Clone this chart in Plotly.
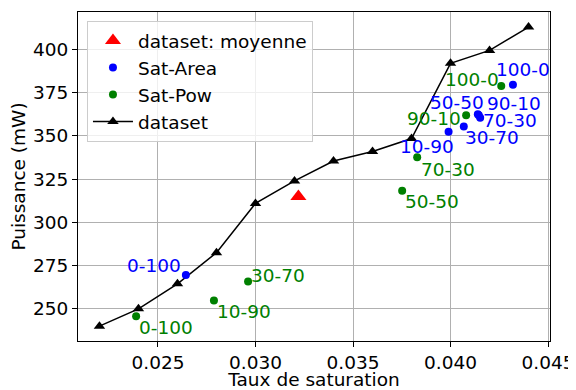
import plotly.graph_objects as go

# --- data ---
ds_x = [0.022, 0.024, 0.026, 0.028, 0.030, 0.032, 0.034, 0.036, 0.038, 0.040, 0.042, 0.044]
ds_y = [240, 250, 264.5, 282.5, 311, 324, 335.5, 341, 348.5, 392, 399.5, 413]

mean_x = [0.0322]
mean_y = [315]

labels = ["0-100", "10-90", "30-70", "50-50", "70-30", "90-10", "100-0"]

area_x = [0.02643, 0.0399, 0.04068, 0.0414, 0.04152, 0.04145, 0.0432]
area_y = [269.6, 352.5, 355.4, 362.5, 360.6, 362.0, 379.6]

pow_x = [0.02388, 0.02787, 0.02962, 0.03752, 0.03829, 0.0408, 0.0426]
pow_y = [245.7, 254.8, 265.8, 318.3, 337.7, 362.0, 378.9]

x_ticks = [0.025, 0.030, 0.035, 0.040, 0.045]
y_ticks = [250, 275, 300, 325, 350, 375, 400]

# label offsets in pixels (style): (dx right, dy up) of label centre from its point
area_off = [(-32, 9), (-22, -15), (28, -11), (-21, 12), (30, -3), (35, 12), (10, 15)]
pow_off = [(30, -11), (30, -11), (30, 6), (30, -11), (31, -12), (-32, -3), (-29, 6)]

FONT = "DejaVu Sans"
FS = 18.5

fig = go.Figure()

fig.add_trace(go.Scatter(
    x=ds_x, y=ds_y, mode="lines+markers", name="dataset",
    line=dict(color="black", width=1.5),
    marker=dict(symbol="triangle-up", size=10, color="black"),
    legendrank=4,
))

fig.add_trace(go.Scatter(
    x=area_x, y=area_y, mode="markers", name="Sat-Area",
    marker=dict(symbol="circle", size=8, color="blue"),
    legendrank=2,
))

fig.add_trace(go.Scatter(
    x=pow_x, y=pow_y, mode="markers", name="Sat-Pow",
    marker=dict(symbol="circle", size=8, color="green"),
    legendrank=3,
))

fig.add_trace(go.Scatter(
    x=mean_x, y=mean_y, mode="markers", name="dataset: moyenne",
    marker=dict(symbol="triangle-up", size=14, color="red"),
    legendrank=1,
))

annotations = []
for xs, ys, offs, col in [(area_x, area_y, area_off, "blue"), (pow_x, pow_y, pow_off, "green")]:
    for lab, xv, yv, (dx, dy) in zip(labels, xs, ys, offs):
        annotations.append(dict(
            x=xv, y=yv, xref="x", yref="y", text=lab, showarrow=False,
            xanchor="center", yanchor="middle", xshift=dx, yshift=dy,
            font=dict(color=col, size=FS, family=FONT),
        ))

axis_common = dict(
    showgrid=True, gridcolor="#b0b0b0", gridwidth=1,
    showline=True, linecolor="black", linewidth=1, mirror=True,
    ticks="outside", ticklen=5, tickcolor="black",
    tickfont=dict(size=FS, family=FONT, color="black"),
    zeroline=False, automargin=False,
)

# page body has an 8px margin, so the figure is shrunk/shifted to fit the window
fig.update_layout(
    width=568, height=382,
    margin=dict(l=70, r=26, t=4, b=49),
    paper_bgcolor="white", plot_bgcolor="white",
    font=dict(family=FONT, size=FS, color="black"),
    xaxis=dict(range=[0.0209, 0.0451], tickvals=x_ticks, tickformat=".3f",
               title=dict(text="Taux de saturation", font=dict(size=FS, family=FONT), standoff=7),
               **axis_common),
    yaxis=dict(range=[231.4, 421.7], tickvals=y_ticks,
               title=dict(text="Puissance (mW)", font=dict(size=FS, family=FONT), standoff=9),
               **axis_common),
    legend=dict(x=0.019, y=0.973, xanchor="left", yanchor="top",
                bgcolor="rgba(255,255,255,0.8)", bordercolor="#cccccc", borderwidth=1,
                font=dict(size=FS, family=FONT), tracegroupgap=0, itemwidth=40),
    annotations=annotations,
    showlegend=True,
)

fig.write_html("out.html")
